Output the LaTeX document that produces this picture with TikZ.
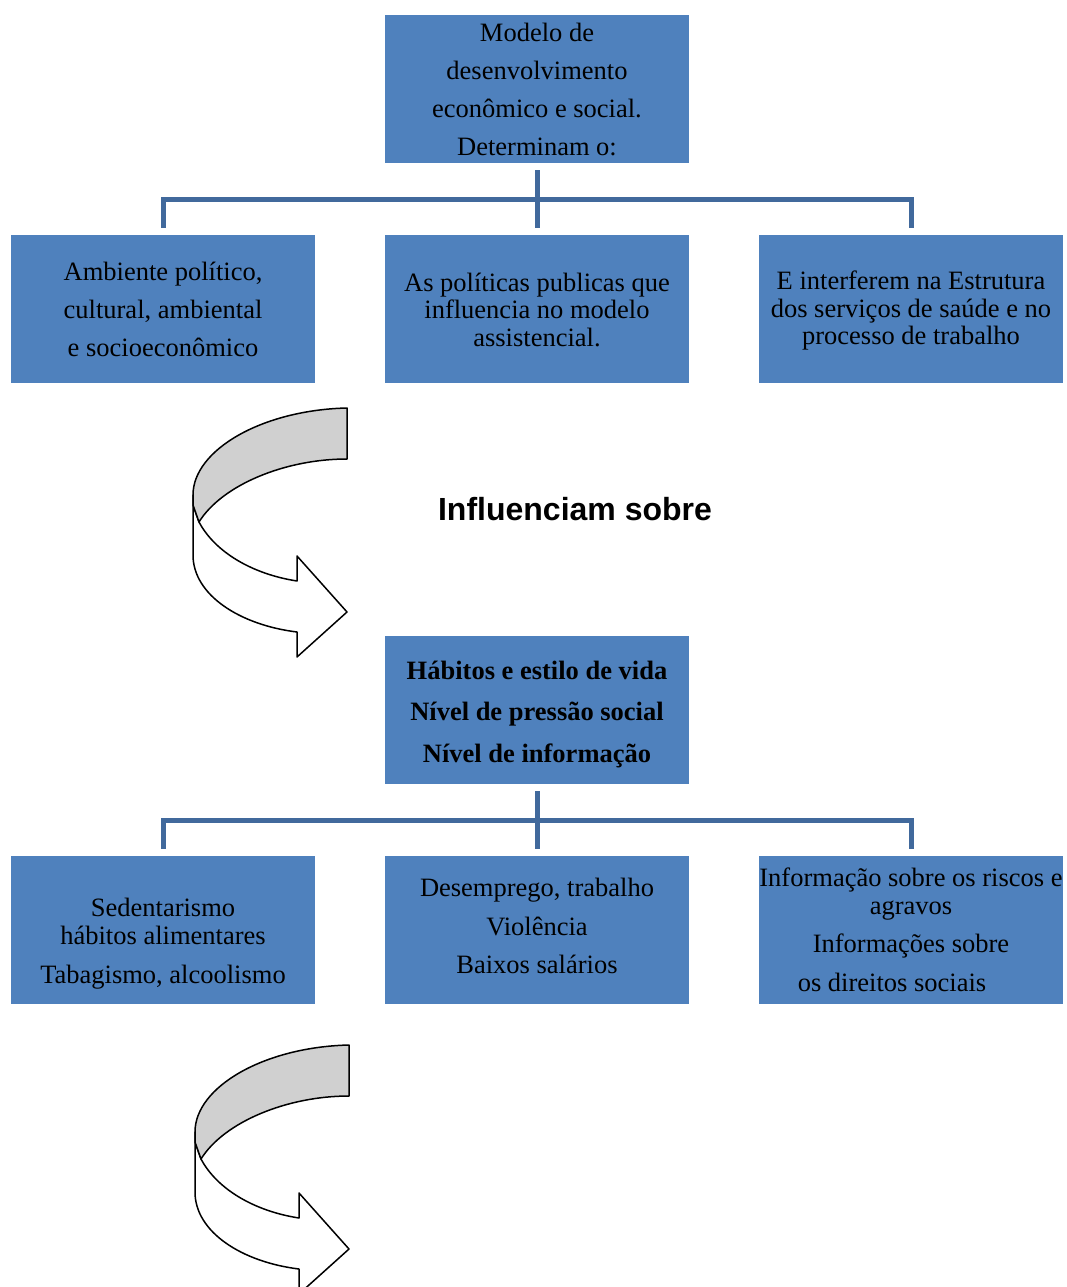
\documentclass[tikz,border=0pt]{standalone}
\usepackage{fontspec}
\setmainfont{Liberation Serif}
\newfontfamily\headfont{Liberation Sans}
\definecolor{boxblue}{HTML}{4F81BD}
\definecolor{linkblue}{HTML}{41699C}
\definecolor{bandgrey}{HTML}{D0D0D0}
\tikzset{
  box/.style={fill=boxblue, minimum width=304pt, minimum height=148pt, inner sep=0pt},
  txt/.style={align=center, inner sep=0pt, text=black},
  conn/.style={draw=linkblue, line width=5pt},
  arrline/.style={draw=black, line width=1.5pt, line join=round},
  curvarrow/.pic={
    \path[arrline, fill=white] (193,495) -- (193,555) .. controls (193,595) and (240,625) .. (297,632)
      -- (297,657) -- (347,612) -- (297,556) -- (297,581)
      .. controls (252,574) and (215,552) .. (199,522) -- (193,505) -- cycle;
    \path[arrline, fill=bandgrey] (347,408) .. controls (262,410) and (193,450) .. (193,495)
      -- (193,505) -- (199,522) .. controls (222,485) and (285,459) .. (347,459) -- cycle;
  }
}
\begin{document}
\begin{tikzpicture}[x=1pt, y=-1pt]
\useasboundingbox (0,0) rectangle (1066,1287);
\clip (0,0) rectangle (1066,1287);
\fill[white] (0,0) rectangle (1066,1287);

% top level
\node[box] (top) at (537,89) {};
\node[txt, font=\fontsize{26.5}{38}\selectfont] (topt) at (537,89) {Modelo de\\desenvolvimento\\econômico e social.\\Determinam o:};

\node[box] (b1) at (163,309) {};
\node[box] (b2) at (537,309) {};
\node[box] (b3) at (911,309) {};
\node[txt, font=\fontsize{26.5}{38}\selectfont] (b1t) at (163,309) {Ambiente político,\\cultural, ambiental\\e socioeconômico};
\node[txt, font=\fontsize{26.5}{27.5}\selectfont] (b2t) at (537,309.5) {As políticas publicas que\\influencia no modelo\\assistencial.};
\node[txt, font=\fontsize{26.5}{27.5}\selectfont] (b3t) at (911,310.5) {E interferem na Estrutura\\dos serviços de saúde e no\\processo de trabalho};

\coordinate (j1) at (537,199);
\draw[conn] ([yshift=-7pt]top.south) -- ([yshift=7pt]b2.north);
\draw[conn] ([yshift=7pt]b1.north) |- (j1) -| ([yshift=7pt]b3.north);

% curved arrow 1 and heading
\pic (arr1) at (0,0) {curvarrow};
\node[txt, font=\headfont\bfseries\fontsize{32}{38}\selectfont] (head) at (575,509) {Influenciam sobre};

% middle level
\node[box] (mid) at (537,710) {};
\node[txt, font=\bfseries\fontsize{26.5}{41.5}\selectfont] (midt) at (537,714.5) {Hábitos e estilo de vida\\Nível de pressão social\\Nível de informação};

\node[box] (c1) at (163,930) {};
\node[box] (c2) at (537,930) {};
\node[box] (c3) at (911,930) {};
\node[txt, font=\fontsize{26.5}{28}\selectfont] (c1t) at (163,944) {Sedentarismo\\hábitos alimentares\\[11pt]Tabagismo, alcoolismo};
\node[txt, font=\fontsize{26.5}{38.5}\selectfont] (c2t) at (537,926) {Desemprego, trabalho\\Violência\\Baixos salários};
\node[txt, font=\fontsize{26.5}{28}\selectfont] (c3t) at (911,930) {Informação sobre os riscos e\\agravos\\[10pt]Informações sobre\\[11pt]os direitos sociais\hspace*{38pt}};

\coordinate (j2) at (537,820);
\draw[conn] ([yshift=-7pt]mid.south) -- ([yshift=7pt]c2.north);
\draw[conn] ([yshift=7pt]c1.north) |- (j2) -| ([yshift=7pt]c3.north);

% curved arrow 2
\pic (arr2) at (2,637) {curvarrow};
\end{tikzpicture}
\end{document}
